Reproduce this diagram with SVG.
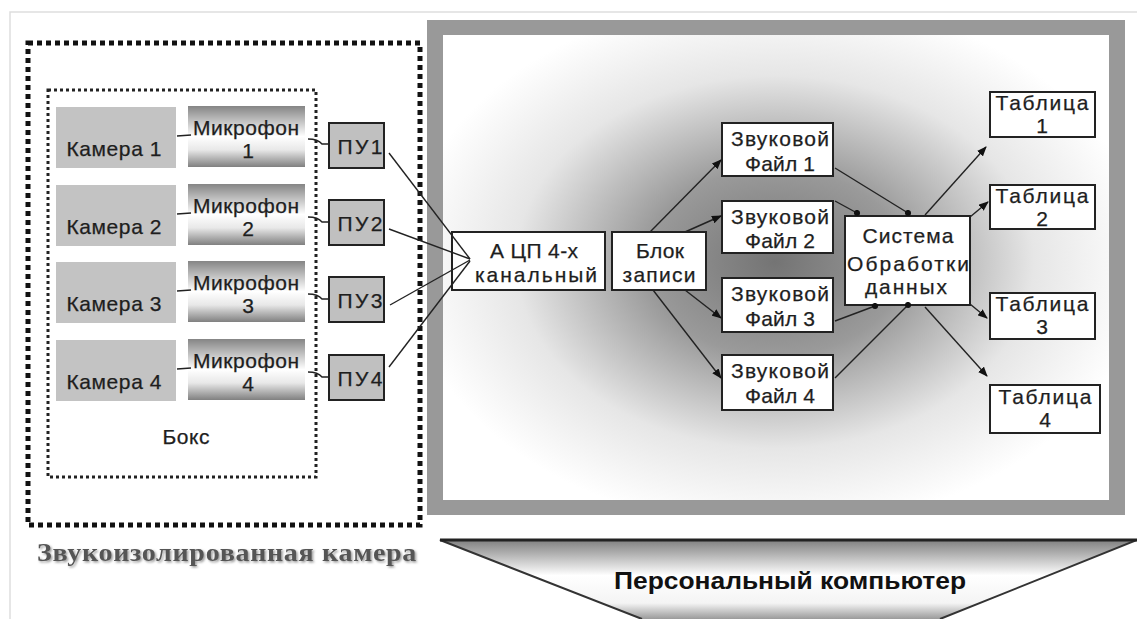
<svg xmlns="http://www.w3.org/2000/svg" width="1137" height="619" viewBox="0 0 1137 619">
<defs>
<style>
text{font-family:"Liberation Sans",Arial,sans-serif;fill:#1e1e1e;}
.t{font-size:21px;text-anchor:middle;stroke:#1e1e1e;stroke-width:0.25;}
.cam{fill:#c3c3c3;stroke:none;}
.mic{fill:url(#micG);stroke:none;}
.pu{fill:#c0c0c0;stroke:#222;stroke-width:2;}
.wb{fill:#fff;stroke:#222;stroke-width:2;}
.ln{fill:none;stroke:#222;stroke-width:1.4;}
</style>
<linearGradient id="micG" x1="0" y1="0" x2="0" y2="1">
<stop offset="0" stop-color="#858585"/>
<stop offset="0.5" stop-color="#ffffff"/>
<stop offset="0.72" stop-color="#e8e8e8"/>
<stop offset="1" stop-color="#808080"/>
</linearGradient>
<radialGradient id="pcG" gradientUnits="userSpaceOnUse" cx="775" cy="262" r="370" gradientTransform="translate(775 262) scale(1 0.72) translate(-775 -262)">
<stop offset="0" stop-color="#747474"/>
<stop offset="0.35" stop-color="#9a9a9a"/>
<stop offset="0.7" stop-color="#e6e6e6"/>
<stop offset="1" stop-color="#ffffff"/>
</radialGradient>
<linearGradient id="chevG" x1="0" y1="0" x2="0" y2="1">
<stop offset="0" stop-color="#808080"/>
<stop offset="0.45" stop-color="#ffffff"/>
<stop offset="0.8" stop-color="#f4f4f4"/>
<stop offset="1" stop-color="#9a9a9a"/>
</linearGradient>
<marker id="arr" viewBox="0 0 10 8" refX="9" refY="4" markerWidth="10" markerHeight="8" markerUnits="userSpaceOnUse" orient="auto">
<path d="M0,0 L10,4 L0,8 Z" fill="#111"/>
</marker>
<marker id="dot" viewBox="0 0 8 8" refX="4" refY="4" markerWidth="7" markerHeight="7" markerUnits="userSpaceOnUse">
<circle cx="4" cy="4" r="3.5" fill="#111"/>
</marker>
<filter id="sh" x="-5%" y="-20%" width="110%" height="150%">
<feDropShadow dx="1.5" dy="1.5" stdDeviation="1" flood-color="#999"/>
</filter>
</defs>
<rect width="1137" height="619" fill="#fff"/>
<path d="M10,619 L10,12 L1137,12" fill="none" stroke="#dedede" stroke-width="1.5"/>

<!-- Sound-proof chamber -->
<g id="chamber">
<rect x="28" y="43" width="392" height="482" fill="none" stroke="#111" stroke-width="5" stroke-dasharray="5 4"/>
<text x="37" y="561" style="font-family:'Liberation Serif','Times New Roman',serif;font-size:25px;font-weight:bold;fill:#555;letter-spacing:0.6px" textLength="380" lengthAdjust="spacingAndGlyphs" filter="url(#sh)">Звукоизолированная камера</text>
</g>
<g id="box">
<rect x="48" y="90" width="268" height="387" fill="none" stroke="#222" stroke-width="3" stroke-dasharray="3 3"/>
<text class="t" x="186" y="444" textLength="47">Бокс</text>
</g>

<!-- PC frame -->
<g id="pc">
<rect x="427" y="20" width="698" height="495" fill="#999"/>
<rect x="443" y="35" width="666" height="465" fill="url(#pcG)"/>
</g>
<g id="pc-label">
<path d="M440,540 L1137,540 L940,619 L642,619 Z" fill="url(#chevG)"/>
<path d="M642,619 L440,540 L1137,540 L940,619" fill="none" stroke="#333" stroke-width="2"/>
<line x1="440" y1="540" x2="1137" y2="540" stroke="#222" stroke-width="3"/>
<text x="790" y="589" style="font-size:24px;font-weight:bold;text-anchor:middle;fill:#111" textLength="352" lengthAdjust="spacingAndGlyphs">Персональный компьютер</text>
</g>

<!-- Cameras -->
<g id="cam1"><rect class="cam" x="56" y="107" width="120" height="61"/><text class="t" x="114" y="156" textLength="95">Камера 1</text></g>
<g id="cam2"><rect class="cam" x="56" y="185" width="120" height="61"/><text class="t" x="114" y="234" textLength="95">Камера 2</text></g>
<g id="cam3"><rect class="cam" x="56" y="262" width="120" height="61"/><text class="t" x="114" y="311" textLength="95">Камера 3</text></g>
<g id="cam4"><rect class="cam" x="56" y="340" width="120" height="61"/><text class="t" x="114" y="389" textLength="95">Камера 4</text></g>

<!-- Microphones -->
<g id="mic1"><rect class="mic" x="188" y="106" width="117" height="61"/><text class="t" x="246" y="135" textLength="106">Микрофон</text><text class="t" x="248" y="158">1</text></g>
<g id="mic2"><rect class="mic" x="188" y="184" width="117" height="61"/><text class="t" x="246" y="213" textLength="106">Микрофон</text><text class="t" x="248" y="236">2</text></g>
<g id="mic3"><rect class="mic" x="188" y="261" width="117" height="61"/><text class="t" x="246" y="290" textLength="106">Микрофон</text><text class="t" x="248" y="313">3</text></g>
<g id="mic4"><rect class="mic" x="188" y="339" width="117" height="61"/><text class="t" x="246" y="368" textLength="106">Микрофон</text><text class="t" x="248" y="391">4</text></g>

<!-- PU -->
<g id="pu1"><rect class="pu" x="329" y="123" width="55" height="45"/><text class="t" x="360" y="154" textLength="45">ПУ1</text></g>
<g id="pu2"><rect class="pu" x="329" y="200" width="55" height="45"/><text class="t" x="360" y="231" textLength="45">ПУ2</text></g>
<g id="pu3"><rect class="pu" x="329" y="277" width="55" height="45"/><text class="t" x="360" y="308" textLength="45">ПУ3</text></g>
<g id="pu4"><rect class="pu" x="329" y="355" width="55" height="45"/><text class="t" x="360" y="386" textLength="45">ПУ4</text></g>

<!-- PC nodes -->
<g id="adc"><rect class="wb" x="452" y="232" width="153" height="58"/><text class="t" x="534" y="258" textLength="88">А ЦП 4-х</text><text class="t" x="536" y="282" textLength="122">канальный</text></g>
<g id="rec"><rect class="wb" x="612" y="232" width="94" height="58"/><text class="t" x="660" y="258" textLength="48">Блок</text><text class="t" x="659" y="282" textLength="73">записи</text></g>
<g id="f1"><rect class="wb" x="722" y="123" width="111" height="53"/><text class="t" x="780" y="146" textLength="98">Звуковой</text><text class="t" x="780" y="171" textLength="70">Файл 1</text></g>
<g id="f2"><rect class="wb" x="722" y="201" width="111" height="52"/><text class="t" x="780" y="224" textLength="98">Звуковой</text><text class="t" x="780" y="248" textLength="70">Файл 2</text></g>
<g id="f3"><rect class="wb" x="722" y="278" width="111" height="54"/><text class="t" x="780" y="301" textLength="98">Звуковой</text><text class="t" x="780" y="326" textLength="70">Файл 3</text></g>
<g id="f4"><rect class="wb" x="722" y="355" width="111" height="55"/><text class="t" x="780" y="378" textLength="98">Звуковой</text><text class="t" x="780" y="403" textLength="70">Файл 4</text></g>
<g id="sys"><rect class="wb" x="845" y="216" width="125" height="89"/><text class="t" x="908" y="243" textLength="91">Система</text><text class="t" x="908" y="271" textLength="122">Обработки</text><text class="t" x="906" y="294" textLength="82">данных</text></g>
<g id="t1"><rect class="wb" x="990" y="92" width="105" height="45"/><text class="t" x="1042" y="110" textLength="93">Таблица</text><text class="t" x="1042" y="133">1</text></g>
<g id="t2"><rect class="wb" x="990" y="185" width="105" height="44"/><text class="t" x="1042" y="203" textLength="93">Таблица</text><text class="t" x="1042" y="226">2</text></g>
<g id="t3"><rect class="wb" x="990" y="293" width="105" height="46"/><text class="t" x="1042" y="311" textLength="93">Таблица</text><text class="t" x="1042" y="334">3</text></g>
<g id="t4"><rect class="wb" x="990" y="385" width="110" height="48"/><text class="t" x="1045" y="404" textLength="93">Таблица</text><text class="t" x="1045" y="427">4</text></g>

<!-- Connectors -->
<g id="connectors">
<path class="ln" d="M177,136 L191,135"/>
<path class="ln" d="M177,214 L191,213"/>
<path class="ln" d="M177,291 L191,290"/>
<path class="ln" d="M177,369 L191,368"/>
<path class="ln" d="M308,139 Q318,139 322,144 L329,144"/>
<path class="ln" d="M308,217 Q318,217 322,222 L329,222"/>
<path class="ln" d="M308,294 Q318,294 322,299 L329,299"/>
<path class="ln" d="M308,372 Q318,372 322,377 L329,377"/>
<path class="ln" d="M389,153 L470,259"/>
<path class="ln" d="M389,229 L470,259"/>
<path class="ln" d="M390,305 L470,260"/>
<path class="ln" d="M389,367 L470,261"/>
<path class="ln" d="M650,232 L721,160" marker-end="url(#arr)"/>
<path class="ln" d="M685,232 L721,216" marker-end="url(#arr)"/>
<path class="ln" d="M685,290 L721,318" marker-end="url(#arr)"/>
<path class="ln" d="M653,290 L721,378" marker-end="url(#arr)"/>
<path class="ln" d="M835,168 L908,213" marker-end="url(#dot)"/>
<path class="ln" d="M835,201 L857,213" marker-end="url(#dot)"/>
<path class="ln" d="M835,321 L875,306" marker-end="url(#dot)"/>
<path class="ln" d="M835,378 L908,305" marker-end="url(#dot)"/>
<path class="ln" d="M925,215 L986,147" marker-end="url(#arr)"/>
<path class="ln" d="M970,217 L988,202" marker-end="url(#arr)"/>
<path class="ln" d="M970,304 L987,318" marker-end="url(#arr)"/>
<path class="ln" d="M925,307 L987,376" marker-end="url(#arr)"/>
</g>
</svg>
